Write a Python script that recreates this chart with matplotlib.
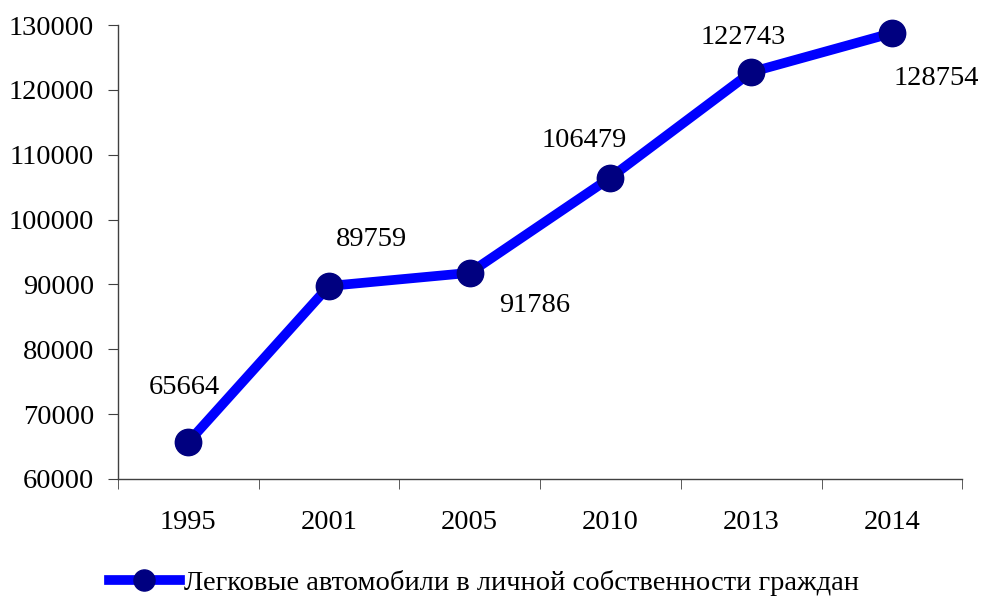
import numpy as np
import matplotlib.pyplot as plt

plt.rcParams['font.family'] = ['Liberation Serif', 'DejaVu Serif']

years = ['1995', '2001', '2005', '2010', '2013', '2014']
cars = [65664, 89759, 91786, 106479, 122743, 128754]
# label offsets in pixels (dx, dy) relative to each point
label_offsets = [(-4, 55), (42, 46), (65, -33), (-26, 37), (-8, 35), (44, -45)]

fs = 20.5
fig = plt.figure(figsize=(9.82, 6), dpi=100)
ax = fig.add_axes([0.120, 0.2017, 0.860, 0.7566])

x = np.arange(len(years))
ax.plot(x, cars, color='#0000FF', lw=7, marker='o', markersize=19,
        markerfacecolor='#000080', markeredgecolor='#000080', clip_on=False,
        label='Легковые автомобили в личной собственности граждан', zorder=3)

for xi, v, (dx, dy) in zip(x, cars, label_offsets):
    ax.annotate(str(v), (xi, v), xytext=(dx * 0.72, dy * 0.72), textcoords='offset points',
                ha='center', va='center', fontsize=fs)

ax.set_xlim(-0.5, len(years) - 0.5)
ax.set_ylim(60000, 130000)
ax.set_yticks(np.arange(60000, 130001, 10000))
ax.set_xticks(x)
ax.set_xticklabels(years)
ax.set_xticks(np.arange(-0.5, len(years)), minor=True)
ax.tick_params(axis='x', which='major', length=0, pad=22, labelsize=fs)
ax.tick_params(axis='x', which='minor', length=7, color='#404040', direction='out')
ax.tick_params(axis='y', length=7, color='#404040', direction='out', labelsize=fs, pad=10)

for s in ['top', 'right']:
    ax.spines[s].set_visible(False)
for s in ['left', 'bottom']:
    ax.spines[s].set_color('#404040')
    ax.spines[s].set_linewidth(1)

leg = fig.legend(loc='center', bbox_to_anchor=(0.493, 0.028), frameon=False,
                 fontsize=fs, handlelength=2.5, handletextpad=0.15, markerscale=0.8)

fig.savefig('out.png', dpi=100)
